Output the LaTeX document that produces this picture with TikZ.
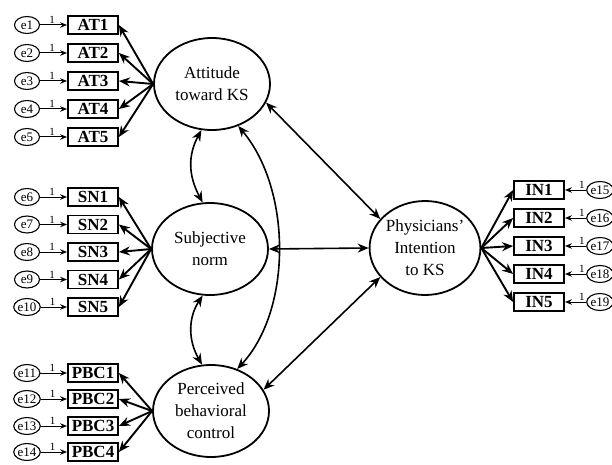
\documentclass[tikz,border=0pt]{standalone}
\usepackage{fontspec}
\setmainfont{Liberation Serif}
\usetikzlibrary{arrows.meta,shapes.geometric}
\begin{document}
\begin{tikzpicture}[x=1pt,y=-1pt,
  lat/.style={draw,ellipse,line width=1.8pt,minimum width=116pt,minimum height=92pt,inner sep=0pt,align=center,font=\fontsize{17}{22}\selectfont},
  ind/.style={draw,rectangle,line width=1.8pt,minimum width=50pt,minimum height=18pt,inner sep=0pt,font=\fontsize{17}{17}\selectfont\bfseries},
  err/.style={draw,ellipse,line width=1.1pt,minimum width=25pt,minimum height=17pt,inner sep=0pt,font=\fontsize{13}{13}\selectfont},
  load/.style={line width=1.9pt,-{Stealth[length=11pt,width=9pt]}},
  cov/.style={line width=1.6pt,{Stealth[length=11pt,width=9pt]}-{Stealth[length=11pt,width=9pt]}},
  errarr/.style={line width=1pt,-{Stealth[length=7pt,width=5.5pt]}},
  one/.style={font=\fontsize{11}{11}\selectfont,inner sep=1pt}
]
\clip (0,0) rectangle (612,465);
\fill[white] (0,0) rectangle (612,465);

% latent variables
\node[lat] (AT) at (212,84) {Attitude\\toward KS};
\node[lat] (SN) at (210,249) {Subjective\\norm};
\node[lat] (PBC) at (211,411) {Perceived\\behavioral\\control};
\node[lat,minimum width=110pt,minimum height=94pt] (PI) at (425,248) {Physicians'\\Intention\\to KS};

% attitude indicators
\foreach \i/\y in {1/25,2/53,3/81,4/109,5/137} {
  \node[err] (e\i) at (27,\y) {e\i};
  \node[ind] (AT\i) at (93,\y) {AT\i};
  \draw[errarr] (e\i) -- node[one,above,pos=0.45]{1} (AT\i);
  \draw[load] (AT.west) -- (AT\i.east);
}
% subjective norm indicators
\foreach \i/\e/\y in {1/6/197,2/7/224.5,3/8/252,4/9/279.5,5/10/307} {
  \node[err] (e\e) at (27,\y) {e\e};
  \node[ind] (SN\i) at (93,\y) {SN\i};
  \draw[errarr] (e\e) -- node[one,above,pos=0.45]{1} (SN\i);
  \draw[load] (SN.west) -- (SN\i.east);
}
% PBC indicators
\foreach \i/\e/\y in {1/11/373,2/12/399,3/13/426,4/14/452} {
  \node[err] (e\e) at (27,\y) {e\e};
  \node[ind] (PBC\i) at (93,\y) {PBC\i};
  \draw[errarr] (e\e) -- node[one,above,pos=0.45]{1} (PBC\i);
  \draw[load] (PBC.west) -- (PBC\i.east);
}
% intention indicators
\foreach \i/\e/\y in {1/15/190,2/16/218,3/17/246,4/18/274,5/19/302} {
  \node[err,minimum width=23pt] (e\e) at (600,\y) {e\e};
  \node[ind] (IN\i) at (539,\y) {IN\i};
  \draw[errarr] (e\e) -- node[one,above,pos=0.2]{1} (IN\i);
  \draw[load] (PI.east) -- (IN\i.west);
}

% structural covariances
\draw[cov] (AT.-19) -- (PI.147);
\draw[cov] (SN.east) -- (PI.west);
\draw[cov] (PBC.22) -- (PI.213);
\draw[cov] (AT.257) .. controls (188,155) and (188,175) .. (SN.99);
\draw[cov] (SN.261) .. controls (188,318) and (188,340) .. (PBC.101);
\draw[cov] (AT.-58) .. controls (292,190) and (292,310) .. (PBC.58);
\end{tikzpicture}
\end{document}
